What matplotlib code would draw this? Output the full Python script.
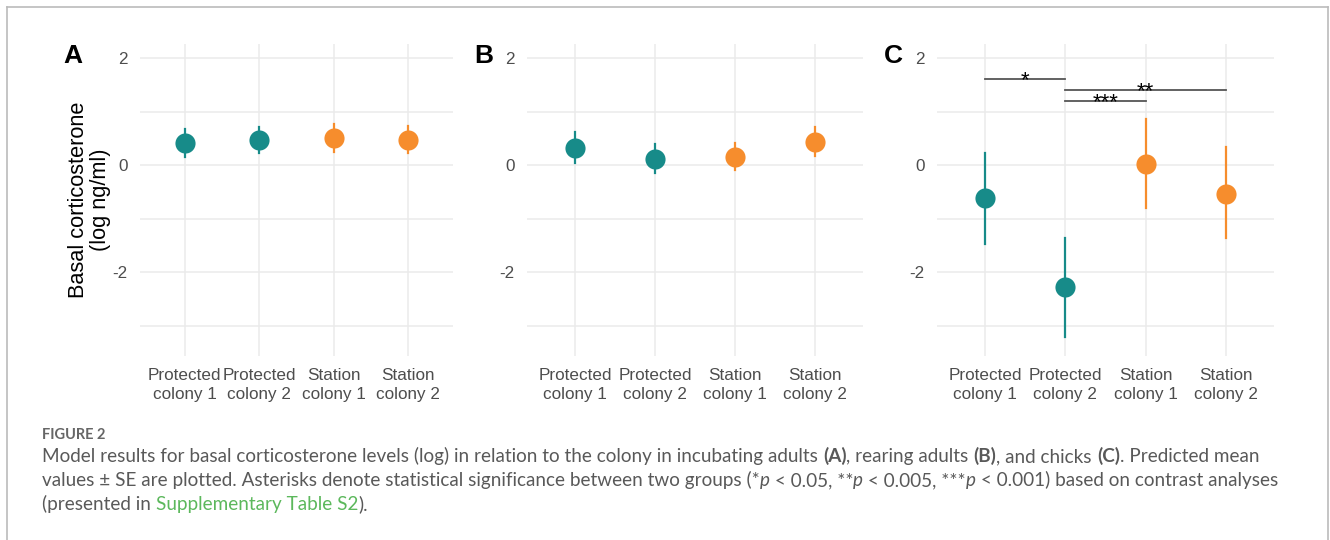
import numpy as np
import matplotlib
matplotlib.use("Agg")
import matplotlib.pyplot as plt
from matplotlib.lines import Line2D

# categories and colours
groups = ["Protected\ncolony 1", "Protected\ncolony 2", "Station\ncolony 1", "Station\ncolony 2"]
group_col = ["#178b89", "#178b89", "#f68d2d", "#f68d2d"]
panels = ["A", "B", "C"]

# predicted means and SE bounds (log ng/ml)
mean_A = [0.42, 0.47, 0.51, 0.46]
low_A = [0.16, 0.22, 0.25, 0.22]
high_A = [0.68, 0.71, 0.76, 0.73]

mean_B = [0.32, 0.11, 0.16, 0.435]
low_B = [0.04, -0.155, -0.09, 0.17]
high_B = [0.61, 0.39, 0.42, 0.71]

mean_C = [-0.62, -2.28, 0.03, -0.53]
low_C = [-1.48, -3.21, -0.79, -1.36]
high_C = [0.23, -1.35, 0.86, 0.33]

# contrasts in panel C: (from group, to group, height, label)
sig_from = [1, 2, 2]
sig_to = [2, 4, 3]
sig_y = [1.60, 1.40, 1.19]
sig_lab = ["*", "**", "***"]

means = [mean_A, mean_B, mean_C]
lows = [low_A, low_B, low_C]
highs = [high_A, high_B, high_C]

W, H = 1330, 540
fig = plt.figure(figsize=(W / 100, H / 100), dpi=100)

# axes boxes in pixels: left, right
boxes = [(140, 453), (527, 863), (937, 1274)]
top, bot = 44, 356
x = np.arange(1, 5)
letter_x = [-0.214, -0.128, -0.128]

for k in range(3):
    l, r = boxes[k]
    ax = fig.add_axes([l / W, 1 - bot / H, (r - l) / W, (bot - top) / H])
    for yy in [-3, -2, -1, 0, 1, 2]:
        ax.axhline(yy, color="#ebebeb", lw=1.1, zorder=0)
    for xx in x:
        ax.axvline(xx, color="#ebebeb", lw=1.1, zorder=0)
    for i in range(4):
        ax.plot([x[i], x[i]], [lows[k][i], highs[k][i]], color=group_col[i], lw=1.6, zorder=2)
        ax.plot(x[i], means[k][i], "o", color=group_col[i], ms=14.5, mec="none", zorder=3)
    ax.set_xlim(0.4, 4.6)
    ax.set_ylim(-3.56, 2.26)
    ax.set_xticks(x)
    ax.set_xticklabels(groups, fontsize=12.3, color="#4d4d4d", family="Liberation Sans", linespacing=1.25)
    ax.set_yticks([-2, 0, 2])
    ax.set_yticklabels(["-2", "0", "2"], fontsize=12.3, color="#4d4d4d", family="Liberation Sans")
    ax.tick_params(length=0, pad=9)
    for s in ax.spines.values():
        s.set_visible(False)
    ax.text(letter_x[k], 0.963, panels[k], transform=ax.transAxes, fontsize=19,
            fontweight="bold", family="Liberation Sans", ha="center", va="center")
    if k == 0:
        ax.set_ylabel("Basal corticosterone\n(log ng/ml)", fontsize=15.7, family="Liberation Sans",
                      linespacing=1.05, labelpad=1)
    if k == 2:
        for a, b, yy, lab in zip(sig_from, sig_to, sig_y, sig_lab):
            ax.plot([a, b], [yy, yy], color="#555555", lw=1.3, zorder=4)
            ax.text((a + b) / 2, yy - 0.13, lab, ha="center", va="baseline", fontsize=16,
                    family="Liberation Sans", zorder=5)

# frame around the figure
for xs, ys in [([7, 7], [540, 7]), ([7, 1328], [7, 7]), ([1328, 1328], [7, 540])]:
    fig.add_artist(Line2D([xs[0] / W, xs[1] / W], [1 - ys[0] / H, 1 - ys[1] / H],
                          color="#bbbbbb", lw=1.2, transform=fig.transFigure))

# caption
fam = ["Lato", "DejaVu Sans"]
cap_col = "#595959"
renderer = fig.canvas.get_renderer()


def put_line(segs, y, size):
    xp = 42
    for txt, style in segs:
        kw = dict(fontsize=size, family=fam, color=cap_col, va="baseline", ha="left")
        if style == "b":
            kw["fontweight"] = "bold"
        if style == "i":
            kw["style"] = "italic"
        if style == "g":
            kw["color"] = "#5cb85c"
        t = fig.text(xp / W, 1 - y / H, txt.replace(" ", "\u00a0"), **kw)
        xp += t.get_window_extent(renderer).width
    return xp


line1 = [("Model results for basal corticosterone levels (log) in relation to the colony in incubating adults ", ""),
         ("(A)", "b"), (", rearing adults ", ""), ("(B)", "b"), (", and chicks ", ""), ("(C)", "b"),
         (". Predicted mean", "")]
line2 = [("values \u00b1 SE are plotted. Asterisks denote statistical significance between two groups (*", ""),
         ("p", "i"), (" < 0.05, **", ""), ("p", "i"), (" < 0.005, ***", ""), ("p", "i"),
         (" < 0.001) based on contrast analyses", "")]
line3 = [("(presented in ", ""), ("Supplementary Table S2", "g"), (").", "")]

fig.text(42 / W, 1 - 439 / H, "FIGURE 2", fontsize=10.5, family=fam, color="#666666", fontweight="bold", va="baseline")
put_line(line1, 462, 13.6)
put_line(line2, 486, 13.6)
put_line(line3, 510, 13.6)

fig.savefig("out.png", dpi=100)
